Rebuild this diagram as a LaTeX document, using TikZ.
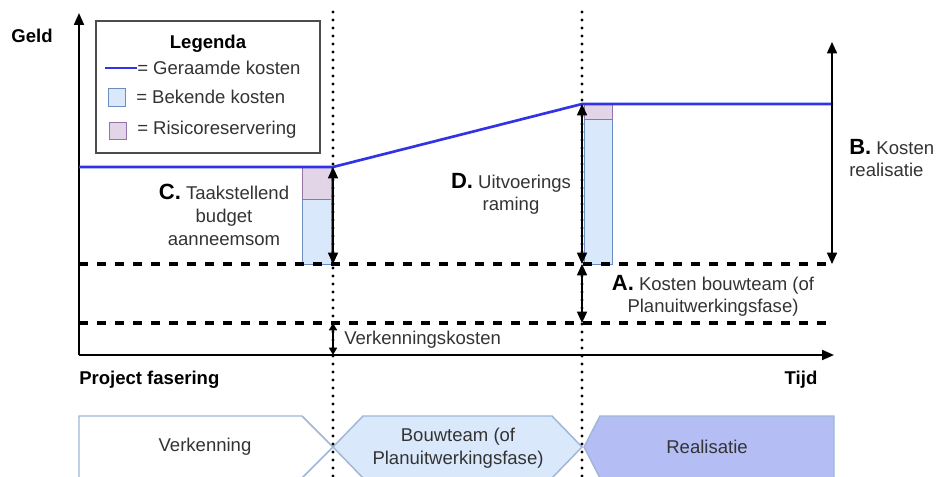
\documentclass[tikz,border=0pt]{standalone}
\usepackage{fontspec}
\setmainfont{Liberation Sans}
\usetikzlibrary{arrows.meta}

\definecolor{costblue}{RGB}{51,51,230}
\definecolor{knownfill}{HTML}{DAE8FC}
\definecolor{knowndraw}{HTML}{6C8EBF}
\definecolor{riskfill}{HTML}{E1D5E7}
\definecolor{riskdraw}{HTML}{9673A6}
\definecolor{realfill}{RGB}{180,190,245}
\definecolor{phasedraw}{RGB}{160,182,215}
\definecolor{txt}{HTML}{333333}

\begin{document}
\begin{tikzpicture}[x=0.75pt,y=-0.75pt,
  axis/.style={line width=1.5pt,-{Triangle[length=9pt,width=7.5pt]}},
  dimarrow/.style={line width=1.2pt,{Triangle[length=8.5pt,width=7.5pt]}-{Triangle[length=8.5pt,width=7.5pt]}},
  smallarrow/.style={line width=1.2pt,{Triangle[length=5.5pt,width=6pt]}-{Triangle[length=5.5pt,width=6pt]}},
  dotline/.style={line width=2.3pt,dash pattern=on 0pt off 6pt,line cap=round},
  dashline/.style={line width=2.6pt,dash pattern=on 7pt off 6.5pt},
  costline/.style={line width=2pt,draw=costblue},
  knownbox/.style={fill=knownfill,draw=knowndraw,line width=0.6pt},
  riskbox/.style={fill=riskfill,draw=riskdraw,line width=0.6pt},
  legendbox/.style={draw=black!70,line width=1.4pt},
  lbl/.style={font=\fontsize{13.9}{17}\selectfont,text=txt,align=center,inner sep=0pt},
  bold/.style={font=\fontsize{13.9}{17}\selectfont\bfseries,text=black,inner sep=0pt},
  phase/.style={draw=phasedraw,line width=1.1pt}
]
\newcommand{\keyletter}[1]{{\fontsize{16.5}{17}\selectfont\bfseries\color{black}#1}}
\useasboundingbox (0,0) rectangle (941,477);

% phase bar
\path[phase,fill=white] (79,416) -- (302,416) -- (333,447) -- (302,478) -- (79,478) -- cycle;
\path[phase,fill=knownfill] (333,447) -- (363,416) -- (552,416) -- (582,447) -- (552,478) -- (363,478) -- cycle;
\path[phase,fill=realfill] (584,447) -- (600,416) -- (834,416) -- (834,478) -- (600,478) -- cycle;
\node[lbl] (phA) at (205,447) {Verkenning};
\node[lbl] (phB) at (458,448) {Bouwteam (of\\Planuitwerkingsfase)};
\node[lbl] (phC) at (707,447) {Realisatie};

% known costs and risk reserve bars
\path[knownbox] (302,199) rectangle (331,264);
\path[riskbox] (302,167) rectangle (331,199);
\path[knownbox] (584,119) rectangle (612,264);
\path[riskbox] (584,104) rectangle (612,119);

% cost levels
\coordinate (l1a) at (79,264); \coordinate (l1b) at (834,264);
\coordinate (l2a) at (79,323); \coordinate (l2b) at (834,323);
\draw[dashline] (l1a) -- (l1b);
\draw[dashline] (l2a) -- (l2b);

% phase boundaries
\coordinate (b1t) at (333,12); \coordinate (b1b) at (333,477);
\coordinate (b2t) at (582,12); \coordinate (b2b) at (582,477);
\draw[dotline] (b1t) -- (b1b);
\draw[dotline] (b2t) -- (b2b);

% axes
\coordinate (origin) at (79,355);
\coordinate (ytip) at (79,13);
\coordinate (xtip) at (834,355);
\draw[axis] (origin) -- (ytip);
\draw[axis] (origin) -- (xtip);

% estimated cost curve
\coordinate (c0) at (79,167);
\coordinate (c1) at (333,167);
\coordinate (c2) at (582,104);
\coordinate (c3) at (833,104);
\draw[costline] (c0) -- (c1) -- (c2) -- (c3);

% dimension arrows
\coordinate (l1c) at (333,264);
\coordinate (l1d) at (582,264);
\coordinate (l2c) at (333,323);
\coordinate (l2d) at (582,323);
\coordinate (xc) at (333,355);
\coordinate (btop) at (832,42);
\coordinate (bbot) at (832,264);
\draw[dimarrow] (c1) -- (l1c);
\draw[dimarrow] (c2) -- (l1d);
\draw[dimarrow] (l1d) -- (l2d);
\draw[dimarrow] (btop) -- (bbot);
\draw[smallarrow] (l2c) -- (xc);

% labels
\node[bold] (geld) at (32,36) {Geld};
\node[bold,anchor=west] (pf) at (79,380) {Project fasering};
\node[bold] (tijd) at (801,380) {Tijd};
\node[lbl] (labC) at (224,215) {\keyletter{C.} Taakstellend\\budget\\aanneemsom};
\node[lbl] (labD) at (511,194) {\keyletter{D.} Uitvoerings\\raming};
\node[lbl,align=left,anchor=west] (labB) at (849,158) {\keyletter{B.} Kosten\\realisatie};
\node[lbl] (labA) at (713,296) {\keyletter{A.} Kosten bouwteam (of\\Planuitwerkingsfase)};
\node[lbl,anchor=west] (labV) at (344,340) {Verkenningskosten};

% legend
\path[legendbox,fill=white] (96,21) rectangle (320,153);
\node[bold] (leg) at (208,44) {Legenda};
\coordinate (ls0) at (105,68); \coordinate (ls1) at (137,68);
\draw[costline] (ls0) -- (ls1);
\node[lbl,anchor=west] (legA) at (137,68) {= Geraamde kosten};
\path[knownbox] (108,88) rectangle (125,106);
\node[lbl,anchor=west] (legB) at (136,97) {= Bekende kosten};
\path[riskbox] (109,122) rectangle (126,139);
\node[lbl,anchor=west] (legC) at (137,130) {= Risicoreservering};
\end{tikzpicture}
\end{document}
